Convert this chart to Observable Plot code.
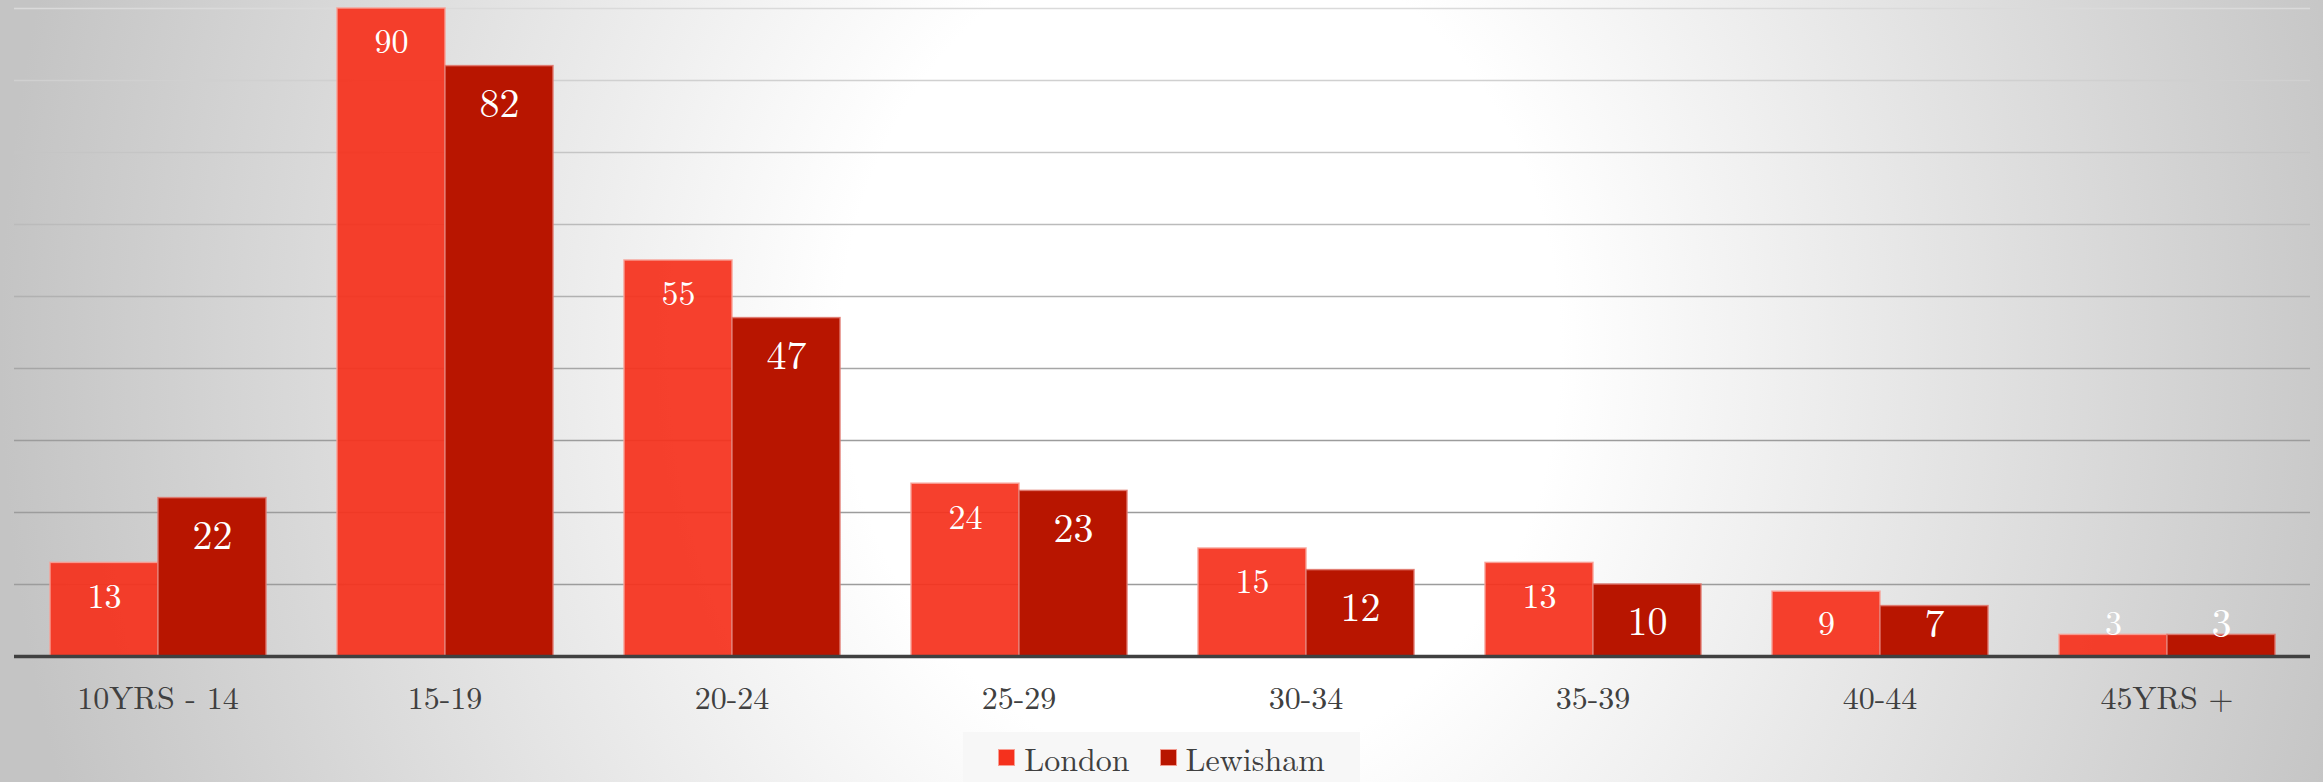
<!DOCTYPE html>
<html>
<head>
<meta charset="utf-8">
<script src="https://cdn.jsdelivr.net/npm/d3@7"></script>
<script src="https://cdn.jsdelivr.net/npm/@observablehq/plot@0.6"></script>
<style>
  html, body { margin: 0; padding: 0; }
  body {
    width: 2323px; height: 782px; overflow: hidden;
    background: radial-gradient(ellipse 1200px 1400px at 1200px 350px, #ffffff 0%, #ffffff 30%, #c4c4c4 100%);
    font-family: "Latin Modern Roman", "CMU Serif", "Liberation Serif", serif;
  }
  #chart svg { display: block; }
  #legend {
    position: relative; width: 2323px; height: 50px;
  }
  #legend .box {
    position: absolute; left: 963px; top: 0; width: 397px; height: 50px;
    background: rgba(246,246,246,0.9);
    display: flex; align-items: center; justify-content: center; gap: 30px;
    color: #404040; font-size: 32px;
  }
  #legend .item { display: flex; align-items: center; gap: 9px; }
  #legend .sw { width: 17px; height: 17px; box-sizing: border-box; border: 1.5px solid rgba(248,170,160,0.9); }
</style>
</head>
<body>
<div id="chart"></div>
<div id="legend"></div>
<script>
const ages = ["10YRS - 14", "15-19", "20-24", "25-29", "30-34", "35-39", "40-44", "45YRS +"];
const seriesNames = ["London", "Lewisham"];
const londonValues = [13, 90, 55, 24, 15, 13, 9, 3];
const lewishamValues = [22, 82, 47, 23, 12, 10, 7, 3];
const gridValues = [10, 20, 30, 40, 50, 60, 70, 80, 90];
const seriesColors = ["#f5311d", "#b81500"];

const data = [];
ages.forEach((a, i) => {
  data.push({age: a, series: "London", value: londonValues[i]});
  data.push({age: a, series: "Lewisham", value: lewishamValues[i]});
});
const londonData = data.filter(d => d.series === "London");
const lewishamData = data.filter(d => d.series === "Lewisham");

const gridColor = d3.scaleLinear().domain([30, 90]).range(["#9c9c9c", "#dadada"]).clamp(true);
const fontFamily = '"Latin Modern Roman", "CMU Serif", "Liberation Serif", serif';

const chart = Plot.plot({
  width: 2323,
  height: 732,
  marginTop: 8,
  marginBottom: 76,
  marginLeft: 12,
  marginRight: 11,
  style: {background: "transparent", fontFamily, color: "#404040", fontSize: "32px"},
  fx: {domain: ages, padding: 0, label: null},
  x: {domain: seriesNames, paddingInner: 0, paddingOuter: 0.32, axis: null},
  y: {domain: [0, 90], axis: null},
  color: {type: "identity"},
  marks: [
    Plot.ruleY(gridValues, {y: d => d, stroke: d => gridColor(d), strokeWidth: 1.5}),
    Plot.barY(londonData, {fx: "age", x: "series", y: "value", fill: seriesColors[0], fillOpacity: 0.93, stroke: "#f8a096", strokeWidth: 1.5, strokeOpacity: 0.9}),
    Plot.barY(lewishamData, {fx: "age", x: "series", y: "value", fill: seriesColors[1], stroke: "#e07a70", strokeWidth: 1.5, strokeOpacity: 0.9}),
    Plot.ruleY([0], {stroke: "#404040", strokeWidth: 3.5}),
    Plot.text(londonData, {fx: "age", x: "series", y: d => Math.max(d.value, 9.2), dy: 34, text: d => String(d.value), fill: "white", fontSize: 34, fontFamily}),
    Plot.text(lewishamData, {fx: "age", x: "series", y: d => Math.max(d.value, 9.7), dy: 38, text: d => String(d.value), fill: "white", fontSize: 40, fontFamily}),
    Plot.axisFx({anchor: "bottom", tickSize: 0, tickPadding: 30, fontSize: 32, fontFamily, fill: "#404040", label: null})
  ]
});
document.getElementById("chart").appendChild(chart);

const legend = document.getElementById("legend");
const box = document.createElement("div");
box.className = "box";
seriesNames.forEach((name, i) => {
  const item = document.createElement("div");
  item.className = "item";
  const sw = document.createElement("span");
  sw.className = "sw";
  sw.style.background = seriesColors[i];
  const label = document.createElement("span");
  label.textContent = name;
  item.appendChild(sw);
  item.appendChild(label);
  box.appendChild(item);
});
legend.appendChild(box);
</script>
</body>
</html>
